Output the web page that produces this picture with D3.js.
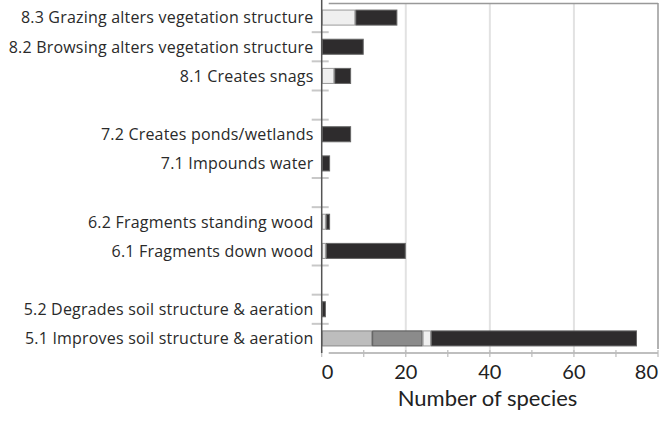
<!DOCTYPE html>
<html>
<head>
<meta charset="utf-8">
<script src="https://cdn.jsdelivr.net/npm/d3@7"></script>
<style>
  body { margin: 0; background: #fff; }
  svg { display: block; font-family: Lato, "Open Sans", sans-serif; }
</style>
</head>
<body>
<svg id="chart"></svg>
<script>
const width = 667;
const height = 422;

// row codes (gaps are empty rows between groups) and their labels
const codes = ["8.3", "8.2", "8.1", "gap8", "7.2", "7.1", "gap7", "6.2", "6.1", "gap6", "5.2", "5.1"];
const labels = [
  "8.3 Grazing alters vegetation structure",
  "8.2 Browsing alters vegetation structure",
  "8.1 Creates snags",
  "",
  "7.2 Creates ponds/wetlands",
  "7.1 Impounds water",
  "",
  "6.2 Fragments standing wood",
  "6.1 Fragments down wood",
  "",
  "5.2 Degrades soil structure & aeration",
  "5.1 Improves soil structure & aeration"
];
// series values per row, stacked left to right
const seriesA = [0, 0, 0, 0, 0, 0, 0, 0, 0, 0, 0, 12];
const seriesB = [0, 0, 0, 0, 0, 0, 0, 0, 0, 0, 0, 12];
const seriesC = [8, 0, 3, 0, 0, 0, 0, 1, 1, 0, 0, 2];
const seriesD = [10, 10, 4, 0, 7, 2, 0, 1, 19, 0, 1, 49];
const xTicks = [0, 20, 40, 60, 80];
const xMinorTicks = [0, 10, 20, 30, 40, 50, 60, 70, 80];
// rows that get a small tick mark under them on the left axis
const tickAfter = ["8.3", "8.2", "8.1", "gap8", "7.1", "gap7", "6.1", "gap6", "5.2"];

const seriesKeys = ["a", "b", "c", "d"];
const colors = { a: "#bdbdbd", b: "#8b8b8b", c: "#efefef", d: "#2e2c2d" };
const strokes = { a: "#8a8a8a", b: "#555", c: "#9a9a9a", d: "#666" };

const rows = codes.map((c, i) => ({ code: c, label: labels[i], a: seriesA[i], b: seriesB[i], c: seriesC[i], d: seriesD[i] }));

const margin = { top: 3, right: 9, bottom: 69, left: 321.7 };
const svg = d3.select("#chart").attr("width", width).attr("height", height);

const x = d3.scaleLinear().domain([0, 80]).range([margin.left, width - margin.right]);
const y = d3.scaleBand().domain(codes).range([margin.top, height - margin.bottom]).paddingInner(0.45).paddingOuter(0.225);
const step = y.step();
const bandTop = (c) => y(c) - y.paddingInner() * step / 2;

// gridlines
svg.append("g")
  .selectAll("line")
  .data(xTicks.filter((d) => d > 0 && d < 80))
  .join("line")
  .attr("x1", (d) => x(d)).attr("x2", (d) => x(d))
  .attr("y1", margin.top).attr("y2", height - margin.bottom)
  .attr("stroke", "#e2e2e2").attr("stroke-width", 2);

// frame top, right
svg.append("line")
  .attr("x1", x(0) + 7).attr("x2", x(80)).attr("y1", margin.top + 0.5).attr("y2", margin.top + 0.5)
  .attr("stroke", "#999").attr("stroke-width", 1.5);
svg.append("line")
  .attr("x1", x(80)).attr("x2", x(80)).attr("y1", margin.top).attr("y2", height - margin.bottom - 4)
  .attr("stroke", "#999").attr("stroke-width", 1.5);

// bottom axis line with ticks
const yb = height - margin.bottom;
svg.append("line")
  .attr("x1", x(0) + 7).attr("x2", x(80)).attr("y1", yb).attr("y2", yb)
  .attr("stroke", "#aaa").attr("stroke-width", 1.5);
svg.append("g")
  .selectAll("line")
  .data(xMinorTicks)
  .join("line")
  .attr("x1", (d) => x(d)).attr("x2", (d) => x(d))
  .attr("y1", yb - 3).attr("y2", yb + 4)
  .attr("stroke", "#bbb").attr("stroke-width", 1.2);

// left ticks
svg.append("g")
  .selectAll("line")
  .data(tickAfter)
  .join("line")
  .attr("x1", x(0) - 10).attr("x2", x(0) + 7)
  .attr("y1", (d) => bandTop(d) + step).attr("y2", (d) => bandTop(d) + step)
  .attr("stroke", "#c8c8c8").attr("stroke-width", 2);

// stacked bars
const stack = d3.stack().keys(seriesKeys)(rows);
svg.append("g")
  .selectAll("g")
  .data(stack)
  .join("g")
  .attr("fill", (s) => colors[s.key])
  .attr("stroke", (s) => strokes[s.key])
  .selectAll("rect")
  .data((s) => s.filter((d) => d[1] - d[0] > 0))
  .join("rect")
  .attr("x", (d) => x(d[0]) + 0.5)
  .attr("width", (d) => x(d[1]) - x(d[0]) - 1)
  .attr("y", (d) => y(d.data.code) + 0.5)
  .attr("height", y.bandwidth() - 1)
  .attr("stroke-width", 1);

// left axis line
svg.append("line")
  .attr("x1", x(0)).attr("x2", x(0)).attr("y1", 0).attr("y2", yb)
  .attr("stroke", "#555").attr("stroke-width", 1.5);

// category labels
svg.append("g")
  .selectAll("text")
  .data(rows.filter((d) => d.label))
  .join("text")
  .attr("x", 313.5)
  .attr("y", (d) => y(d.code) + y.bandwidth() / 2)
  .attr("dy", "0.36em")
  .attr("text-anchor", "end")
  .attr("font-family", "'Open Sans', sans-serif")
  .attr("font-size", 16)
  .attr("letter-spacing", 0.2)
  .attr("fill", "#2a2a2a")
  .text((d) => d.label);

// x tick labels
svg.append("g")
  .selectAll("text")
  .data(xTicks)
  .join("text")
  .attr("x", (d) => x(d))
  .attr("y", 379)
  .attr("text-anchor", (d) => (d === 0 ? "start" : d === 80 ? "end" : "middle"))
  .attr("font-size", 20)
  .attr("fill", "#222")
  .text((d) => d);

svg.append("text")
  .attr("x", 487.5)
  .attr("y", 405.5)
  .attr("text-anchor", "middle")
  .attr("font-size", 22)
  .attr("fill", "#222")
  .text("Number of species");
</script>
</body>
</html>
